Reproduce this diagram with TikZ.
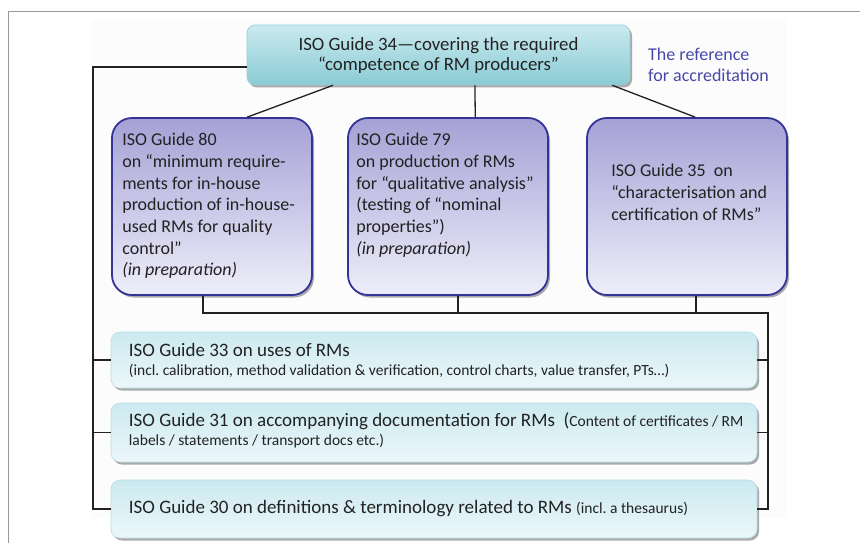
\documentclass[tikz,border=0pt]{standalone}
\usepackage{fontspec}
\setmainfont{Carlito}
\usetikzlibrary{calc,shadows}
\definecolor{guideline}{RGB}{34,34,34}
\definecolor{guideborder}{RGB}{52,52,150}
\definecolor{purpletop}{RGB}{165,161,214}
\definecolor{purplebot}{RGB}{238,238,249}
\definecolor{tealtop}{RGB}{202,234,239}
\definecolor{tealbot}{RGB}{138,203,212}
\definecolor{tealborder}{RGB}{150,205,215}
\definecolor{usetop}{RGB}{204,233,240}
\definecolor{usebot}{RGB}{236,247,250}
\definecolor{useborder}{RGB}{182,222,231}
\definecolor{accblue}{RGB}{72,72,170}
\tikzset{
    boxshadow/.style={drop shadow={shadow xshift=2pt, shadow yshift=-2.5pt, fill=black!55, opacity=0.6}},
    guidebox/.style={draw=guideborder, line width=1.8pt, rounded corners=20pt,
        top color=purpletop, bottom color=purplebot, minimum width=200pt, minimum height=177pt, boxshadow},
    usebox/.style={draw=useborder, line width=0.6pt, rounded corners=9pt,
        top color=usetop, bottom color=usebot, minimum width=646pt, boxshadow},
    guidetext/.style={anchor=north west, inner sep=0pt, align=left, text=guideline,
        font=\fontsize{18}{21.7}\selectfont},
    usetext/.style={anchor=west, inner sep=0pt, align=left, text=guideline,
        font=\fontsize{19}{19}\selectfont},
    link/.style={line width=1.3pt, guideline}
}
\newcommand{\smalltxt}[1]{{\fontsize{15.5}{19}\selectfont #1}}
\begin{document}
\frenchspacing
\begin{tikzpicture}[x=1pt,y=-1pt]
                \useasboundingbox (0,0) rectangle (860,543);
                % Frame and faint slide background
                \fill[gray!2] (92,20) rectangle (787,518);
                \draw[gray!80, line width=1pt] (860,12) -- (8,12) -- (8,543);

                % Rails for the connectors
                \coordinate (lrail) at (93,0);
                \coordinate (rrail) at (768,0);
                \coordinate (bus) at (0,313);

                %Guide 34 on top
                \node[draw=tealborder, line width=0.6pt, rounded corners=8pt, top color=tealtop, bottom color=tealbot,
                      minimum width=383pt, minimum height=60pt, boxshadow, align=center, text=guideline,
                      font=\fontsize{18.8}{20}\selectfont] (g34) at (438.5,55)
                      {ISO Guide 34---covering the required\\``competence of RM producers''};
                \node[anchor=north west, inner sep=0pt, align=left, text=accblue, font=\fontsize{18}{21}\selectfont]
                      (acc) at (648,48) {The reference\\for accreditation};

                %Guides 80, 79, 35
                \node[guidebox] (g80) at (212,206.5) {};
                \node[guidebox] (g79) at (448,206.5) {};
                \node[guidebox] (g35) at (687,206.5) {};
                \node[guidetext] (t80) at ([xshift=11pt,yshift=-16pt]g80.north west)
                      {ISO Guide 80\\on ``minimum require-\\ments for in-house\\production of in-house-\\used RMs for quality\\control''\\\textit{(in preparation)}};
                \node[guidetext] (t79) at ([xshift=9pt,yshift=-16pt]g79.north west)
                      {ISO Guide 79\\on production of RMs\\for ``qualitative analysis''\\(testing of ``nominal\\properties'')\\\textit{(in preparation)}};
                \node[guidetext] (t35) at ([xshift=25pt,yshift=-47pt]g35.north west)
                      {ISO Guide 35~ on\\``characterisation and\\certification of RMs''};

                %Guides 33, 31, 30
                \node[usebox, minimum height=56pt] (g33) at (434,360) {};
                \node[usebox, minimum height=59pt] (g31) at (434,432.5) {};
                \node[usebox, minimum height=58pt] (g30) at (434,509) {};
                \node[usetext] (t33) at ([xshift=18pt]g33.west)
                      {ISO Guide 33 on uses of RMs\\\smalltxt{(incl. calibration, method validation \& verification, control charts, value transfer, PTs\dots)}};
                \node[usetext] (t31) at ([xshift=18pt,yshift=2pt]g31.west)
                      {ISO Guide 31 on accompanying documentation for RMs~ (\smalltxt{Content of certificates / RM}\\\smalltxt{labels / statements / transport docs etc.)}};
                \node[usetext] (t30) at ([xshift=18pt]g30.west)
                      {ISO Guide 30 on definitions \& terminology related to RMs \smalltxt{(incl. a thesaurus)}};

                % Connectors from Guide 34
                \draw[link] ($(g34.south west)!.225!(g34.south east)$) -- ($(g80.north west)!.675!(g80.north east)$);
                \draw[link] ($(g34.south west)!.595!(g34.south east)$) -- ($(g79.north west)!.635!(g79.north east)$);
                \draw[link] ($(g34.south west)!.953!(g34.south east)$) -- ($(g35.north west)!.54!(g35.north east)$);
                \draw[link] ([yshift=-12pt]g34.west) -| (lrail |- g30.west) -- (g30.west);
                \foreach \g in {33,31} {
                    \draw[link] (g\g.west) -- (g\g.west -| lrail);
                }

                % Bus under the three guides
                \coordinate (p80) at ($(g80.south west)!.455!(g80.south east)$);
                \coordinate (p79) at ($(g79.south west)!.55!(g79.south east)$);
                \coordinate (p35) at ($(g35.south west)!.545!(g35.south east)$);
                \draw[link] (p80) |- (rrail |- bus) |- (g30.east);
                \draw[link] (p79) -- (p79 |- bus);
                \draw[link] (p35) -- (p35 |- bus);
                \foreach \g in {33,31} {
                    \draw[link] (g\g.east) -- (g\g.east -| rrail);
                }
            \end{tikzpicture}
\end{document}
